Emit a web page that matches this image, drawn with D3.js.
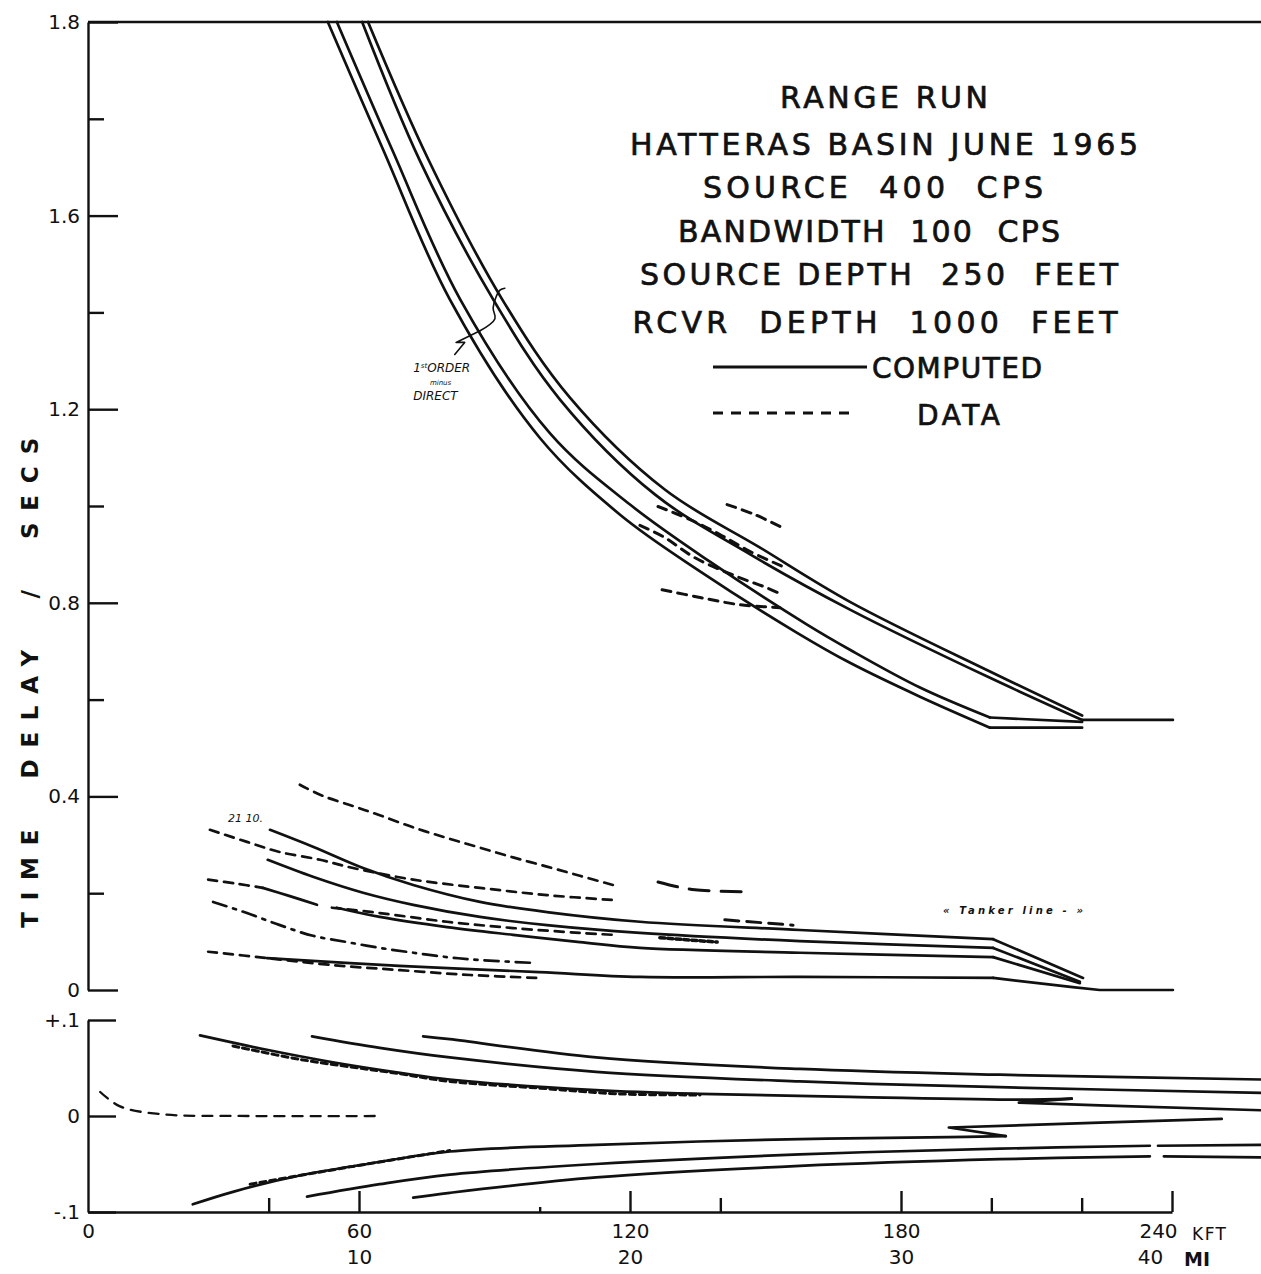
<!DOCTYPE html>
<html>
<head>
<meta charset="utf-8">
<script src="https://cdn.jsdelivr.net/npm/d3@7"></script>
<style>
  html, body { margin: 0; padding: 0; background: #fff; }
  svg { display: block; }
  text { font-family: 'DejaVu Sans', 'Liberation Sans', sans-serif; fill: #111; }
</style>
</head>
<body>
<div id="chart"></div>
<script>
// ---- tick values / labels ----
const yTickValues = [0, 0.4, 0.8, 1.2, 1.6, 2.0];
const yTickLabels = ['0', '0.4', '0.8', '1.2', '1.6', '1.8']; // top label reads 1.8 on the sheet
const yMinorTicks = [0.2, 0.6, 1.0, 1.4, 1.8];
const diffTickValues = [-0.1, 0, 0.1];
const diffTickLabels = ['-.1', '0', '+.1'];
const xTickValues = [0, 60, 120, 180, 240];
const xTickLabelsKft = ['0', '60', '120', '180', '240'];
const xTickLabelsMi = ['', '10', '20', '30', '40'];
const xMinorTicks = [40, 140, 200, 220];
const xTinyTicks = [100];

const titleLines = ['RANGE RUN', 'HATTERAS BASIN JUNE 1965', 'SOURCE  400  CPS', 'BANDWIDTH  100  CPS',
  'SOURCE DEPTH  250  FEET', 'RCVR  DEPTH  1000  FEET'];

// ---- upper group: 1st order minus direct (kft, secs) ----
const computedA1 = [[53.1, 2.0], [65.3, 1.737], [80.1, 1.427], [100.1, 1.140], [117.8, 0.982], [135.5, 0.865],
  [157.0, 0.738], [168.7, 0.676], [184.2, 0.606], [199.7, 0.542], [220.1, 0.542]];
const computedA2 = [[55.1, 2.0], [67.3, 1.737], [82.4, 1.427], [102.3, 1.150], [120.0, 1.003], [137.7, 0.885],
  [159.2, 0.755], [168.7, 0.703], [184.2, 0.625], [199.7, 0.563], [220.1, 0.554]];
const computedB1 = [[60.7, 2.0], [73.5, 1.713], [89.7, 1.427], [104.5, 1.220], [125.5, 1.024], [146.6, 0.900],
  [168.7, 0.786], [199.7, 0.645], [220.1, 0.558], [240.2, 0.558]];
const computedB2 = [[62.0, 2.0], [75.3, 1.717], [91.7, 1.427], [106.7, 1.224], [127.7, 1.034], [148.8, 0.914],
  [168.7, 0.802], [199.7, 0.658], [220.1, 0.567]];

const dataTop1 = [[126.2, 0.999], [133.3, 0.972], [139.9, 0.941], [146.6, 0.906], [154.3, 0.873]];
const dataTop2 = [[141.5, 1.003], [147.7, 0.982], [153.6, 0.956]];
const dataTop3 = [[122.2, 0.960], [127.3, 0.937], [134.4, 0.893], [143.7, 0.854], [150.3, 0.831], [153.2, 0.819]];
const dataTop4 = [[127.1, 0.827], [135.5, 0.811], [144.3, 0.796], [153.2, 0.790]];

// ---- lower group (kft, secs) ----
const computedS1 = [[40.3, 0.331], [49.8, 0.296], [60.9, 0.252], [72.0, 0.217], [86.8, 0.182], [101.6, 0.161],
  [122.2, 0.141], [157.6, 0.124], [200.4, 0.105], [220.3, 0.025]];
const computedS2 = [[39.8, 0.269], [49.8, 0.234], [60.9, 0.201], [72.0, 0.176], [86.8, 0.151], [101.6, 0.134],
  [122.2, 0.118], [157.6, 0.101], [200.4, 0.087], [219.6, 0.017]];
const computedS3 = [[55.1, 0.170], [64.6, 0.151], [79.5, 0.130], [94.1, 0.114], [108.9, 0.099], [122.2, 0.087],
  [157.6, 0.077], [200.4, 0.068], [219.6, 0.014]];
const computedS4 = [[39.6, 0.066], [68.9, 0.050], [99.9, 0.037], [122.2, 0.027], [157.6, 0.027], [200.4, 0.025],
  [218.0, 0.006], [224.0, 0], [240.2, 0]];
const computedS5 = [[38.7, 0.211], [44.7, 0.194], [50.7, 0.176]];

const dataLow1 = [[46.9, 0.424], [52.0, 0.401], [58.7, 0.380], [64.6, 0.361], [72.0, 0.336], [79.5, 0.314],
  [86.8, 0.294], [94.1, 0.274], [101.6, 0.255], [108.9, 0.236], [116.2, 0.217]];
const dataLow2 = [[27.0, 0.331], [35.2, 0.306], [42.5, 0.285], [51.4, 0.269], [58.7, 0.252], [72.0, 0.228],
  [86.8, 0.211], [101.6, 0.196], [116.2, 0.186]];
const dataLow3 = [[26.6, 0.228], [32.7, 0.220], [38.7, 0.211]];
const dataLow4 = [[54.0, 0.170], [64.6, 0.159], [79.5, 0.141], [94.1, 0.128], [108.9, 0.118], [116.2, 0.114]];
const dataLow5 = [[27.7, 0.182], [35.2, 0.159], [42.5, 0.134], [49.8, 0.112], [57.3, 0.099], [64.6, 0.087],
  [72.0, 0.077], [79.5, 0.068], [86.8, 0.062], [98.5, 0.056]];
const dataLow6 = [[26.6, 0.079], [39.6, 0.066], [53.6, 0.052], [69.1, 0.041], [84.6, 0.031], [99.4, 0.025]];
const dataLow7 = [[126.2, 0.223], [130.6, 0.213], [134.4, 0.207], [145.0, 0.203]];
const dataLow8 = [[141.0, 0.145], [156.1, 0.134]];
const dataLow9 = [[126.6, 0.108], [139.3, 0.099]];

// ---- bottom panel: difference (kft, secs) ----
const diffZero = [[2.7, 0.025], [7.1, 0.010], [15.9, 0.002], [35.9, 0], [63.5, 0]];
const diffUp1 = [[24.8, 0.084], [39.6, 0.069], [54.2, 0.056], [69.1, 0.045], [80.1, 0.038], [112.5, 0.027],
  [135.5, 0.023], [168.7, 0.020], [206.1, 0.017], [217.8, 0.018]];
const diffUp1b = [[217.8, 0.018], [206.1, 0.014], [224.0, 0.011], [259.7, 0.006]];
const diffUp2 = [[49.6, 0.083], [64.6, 0.071], [80.1, 0.061], [112.5, 0.046], [157.6, 0.036], [201.9, 0.030], [259.7, 0.024]];
const diffUp3 = [[74.2, 0.083], [80.1, 0.080], [112.5, 0.061], [157.6, 0.049], [201.9, 0.043], [259.7, 0.038]];
const diffUpData = [[32.1, 0.073], [46.9, 0.059], [69.1, 0.044], [80.1, 0.036], [100.1, 0.029], [117.8, 0.023], [135.5, 0.022]];
const diffDown1 = [[23.2, -0.092], [32.1, -0.079], [46.9, -0.062], [61.8, -0.050], [80.1, -0.037], [112.5, -0.030],
  [157.6, -0.024], [190.6, -0.022], [203.2, -0.021]];
const diffDown1b = [[203.2, -0.021], [190.6, -0.012], [224.0, -0.007], [251.0, -0.003]];
const diffDownData = [[35.9, -0.071], [58.0, -0.053], [80.1, -0.036]];
const diffDown2 = [[48.5, -0.084], [64.6, -0.071], [80.1, -0.061], [112.5, -0.050], [157.6, -0.040], [201.9, -0.034], [235.1, -0.031]];
const diffDown2b = [[236.9, -0.031], [259.7, -0.030]];
const diffDown3 = [[72.0, -0.085], [80.1, -0.080], [112.5, -0.064], [157.6, -0.052], [201.9, -0.045], [235.1, -0.042]];
const diffDown3b = [[238.2, -0.042], [259.7, -0.043]];

// hand annotation pointer (kft, secs)
const pointerPath = [[81.2, 1.313], [83.4, 1.338], [81.5, 1.338], [86.8, 1.362]];
const bracketPath = [[86.8, 1.362], [90.1, 1.387], [89.7, 1.410], [91.2, 1.446], [92.3, 1.450]];

function drawRangeRun(containerSelector) {
  const W = 1261, H = 1274;
  const ink = '#111';
  const lw = 2.7;

  const svg = d3.select(containerSelector)
    .append('svg')
    .attr('width', W)
    .attr('height', H)
    .style('background', '#fff');

  // Scales
  const x = d3.scaleLinear().domain([0, 240]).range([88, 1172]);
  const yTop = d3.scaleLinear().domain([0, 2.0]).range([990, 22]);
  const yBot = d3.scaleLinear().domain([-0.1, 0.1]).range([1212, 1020]);

  const styleAxis = g => {
    g.selectAll('path.domain').attr('stroke', ink).attr('stroke-width', 2.4);
    g.selectAll('.tick line').attr('stroke', ink).attr('stroke-width', 2.4);
    g.selectAll('.tick text').attr('font-size', 20).attr('fill', ink)
      .attr('font-family', "'DejaVu Sans', sans-serif");
  };

  // top border
  svg.append('line')
    .attr('x1', x(0)).attr('x2', x(260))
    .attr('y1', yTop(2.0)).attr('y2', yTop(2.0))
    .attr('stroke', ink).attr('stroke-width', 2.4);

  // main y axis
  svg.append('g')
    .attr('transform', `translate(${x(0)},0)`)
    .call(d3.axisLeft(yTop).tickValues(yTickValues)
      .tickFormat((d, i) => yTickLabels[i]).tickSizeInner(-30).tickSizeOuter(0).tickPadding(8))
    .call(styleAxis);

  svg.append('g')
    .attr('transform', `translate(${x(0)},0)`)
    .call(d3.axisLeft(yTop).tickValues(yMinorTicks).tickFormat('').tickSizeInner(-16).tickSizeOuter(0))
    .call(styleAxis)
    .select('.domain').remove();

  // difference panel y axis
  svg.append('g')
    .attr('transform', `translate(${x(0)},0)`)
    .call(d3.axisLeft(yBot).tickValues(diffTickValues)
      .tickFormat((d, i) => diffTickLabels[i]).tickSizeInner(-28).tickSizeOuter(0).tickPadding(8))
    .call(styleAxis);

  // x axis
  const xAxisG = svg.append('g')
    .attr('transform', `translate(0,${yBot(-0.1)})`)
    .call(d3.axisBottom(x).tickValues(xTickValues)
      .tickFormat((d, i) => xTickLabelsKft[i]).tickSizeInner(-21).tickSizeOuter(0).tickPadding(12))
    .call(styleAxis);
  xAxisG.selectAll('.tick text').filter(d => d === 240).attr('dx', -14);
  xAxisG.selectAll('.tick').filter(d => d === 0).select('line').remove();

  svg.append('g')
    .attr('transform', `translate(0,${yBot(-0.1)})`)
    .call(d3.axisBottom(x).tickValues(xMinorTicks).tickFormat('').tickSizeInner(-14).tickSizeOuter(0))
    .call(styleAxis)
    .select('.domain').remove();

  svg.append('g')
    .attr('transform', `translate(0,${yBot(-0.1)})`)
    .call(d3.axisBottom(x).tickValues(xTinyTicks).tickFormat('').tickSizeInner(-5).tickSizeOuter(0))
    .call(styleAxis)
    .select('.domain').remove();

  // miles row
  const miG = svg.append('g')
    .attr('transform', `translate(0,${yBot(-0.1) + 26})`)
    .call(d3.axisBottom(x).tickValues(xTickValues)
      .tickFormat((d, i) => xTickLabelsMi[i]).tickSize(0).tickPadding(12))
    .call(styleAxis);
  miG.select('.domain').remove();
  miG.selectAll('.tick text').filter(d => d === 240).attr('dx', -22);

  svg.append('text')
    .attr('x', x(240) + 20).attr('y', yBot(-0.1) + 28)
    .attr('font-size', 17).attr('textLength', 34).attr('lengthAdjust', 'spacing')
    .text('KFT');
  svg.append('text')
    .attr('x', x(240) + 12).attr('y', yBot(-0.1) + 54)
    .attr('font-size', 19).attr('font-weight', 'bold')
    .text('MI');

  // y title
  svg.append('text')
    .attr('transform', `translate(38,${(yTop(0.14) + yTop(1.13)) / 2}) rotate(-90)`)
    .attr('text-anchor', 'middle')
    .attr('font-size', 23)
    .attr('font-weight', 'bold')
    .attr('textLength', 490)
    .attr('lengthAdjust', 'spacing')
    .style('white-space', 'pre')
    .text('TIME  DELAY  /  SECS');

  // Line generators
  const smooth = d3.curveCatmullRom.alpha(0.5);
  const lineTop = d3.line().x(d => x(d[0])).y(d => yTop(d[1])).curve(smooth);
  const lineTopLin = d3.line().x(d => x(d[0])).y(d => yTop(d[1]));
  const lineBot = d3.line().x(d => x(d[0])).y(d => yBot(d[1])).curve(smooth);
  const lineBotLin = d3.line().x(d => x(d[0])).y(d => yBot(d[1]));

  const plot = svg.append('g').attr('fill', 'none').attr('stroke', ink)
    .attr('stroke-linecap', 'round').attr('stroke-linejoin', 'round');

  const draw = (points, gen, dash, width) => {
    plot.append('path')
      .datum(points)
      .attr('stroke-width', width || lw)
      .attr('stroke-dasharray', dash || null)
      .attr('d', gen);
  };

  // smooth up to the kink point, straight after it
  const drawKinked = (points, k) => {
    draw(points.slice(0, k + 1), lineTop);
    draw(points.slice(k), lineTopLin);
  };

  // computed (solid)
  drawKinked(computedA1, 9);
  drawKinked(computedA2, 9);
  drawKinked(computedB1, 8);
  draw(computedB2, lineTop);
  drawKinked(computedS1, 8);
  drawKinked(computedS2, 8);
  drawKinked(computedS3, 7);
  drawKinked(computedS4, 5);
  draw(computedS5, lineTop);
  [diffUp1, diffUp2, diffUp3, diffDown1, diffDown2, diffDown2b, diffDown3, diffDown3b]
    .forEach(s => draw(s, lineBot));
  [diffUp1b, diffDown1b].forEach(s => draw(s, lineBotLin));

  // data (dashed)
  [dataTop1, dataTop2, dataTop3, dataTop4].forEach(s => draw(s, lineTop, '9,7', 3));
  [dataLow1, dataLow2, dataLow3, dataLow4, dataLow6].forEach(s => draw(s, lineTop, '9,7'));
  draw(dataLow5, lineTop, '14,7,3,7');
  draw(dataLow7, lineTop, '20,12', 3);
  draw(dataLow8, lineTop, '14,8', 3);
  draw(dataLow9, lineTop, '5,3', 3.5);
  draw(diffZero, lineBot, '10,8', 2.3);
  draw(diffUpData, lineBot, '6,4', 3);
  draw(diffDownData, lineBot, '6,4', 3);

  // pointer for the annotation
  draw(pointerPath, lineTopLin, null, 1.6);
  draw(bracketPath, lineTop, null, 1.6);

  // annotations
  const ann = svg.append('g').attr('font-style', 'italic');
  const t1 = ann.append('text').attr('x', x(72.0)).attr('y', yTop(1.276)).attr('font-size', 12);
  t1.append('tspan').text('1');
  t1.append('tspan').attr('font-size', 7).attr('dy', -4).text('st');
  t1.append('tspan').attr('dy', 4).text('ORDER');
  ann.append('text').attr('x', x(75.7)).attr('y', yTop(1.250)).attr('font-size', 7).text('minus');
  ann.append('text').attr('x', x(72.0)).attr('y', yTop(1.218)).attr('font-size', 12).text('DIRECT');
  ann.append('text').attr('x', x(31.0)).attr('y', yTop(0.347)).attr('font-size', 11).text('21 10.');
  ann.append('text').attr('x', x(204.8)).attr('y', yTop(0.158)).attr('font-size', 10)
    .attr('font-weight', 'bold')
    .attr('text-anchor', 'middle').attr('textLength', 140).attr('lengthAdjust', 'spacing')
    .text('« Tanker  line  - »');

  // title block
  const titleX = [884, 884, 873, 869, 879, 875];
  const titleY = [108, 155, 198, 242, 285, 333];
  const titleW = [208, 508, 340, 382, 478, 485];
  svg.append('g')
    .selectAll('text')
    .data(titleLines)
    .join('text')
    .attr('x', (d, i) => titleX[i])
    .attr('y', (d, i) => titleY[i])
    .attr('text-anchor', 'middle')
    .attr('font-size', 30)
    .attr('stroke', ink).attr('stroke-width', 0.7)
    .attr('textLength', (d, i) => titleW[i])
    .attr('lengthAdjust', 'spacing')
    .style('white-space', 'pre')
    .text(d => d);

  // legend
  const legend = svg.append('g');
  legend.append('line')
    .attr('x1', 713).attr('x2', 867).attr('y1', 367).attr('y2', 367)
    .attr('stroke', ink).attr('stroke-width', 2.8);
  legend.append('text')
    .attr('x', 872).attr('y', 378).attr('font-size', 28)
    .attr('stroke', ink).attr('stroke-width', 0.7)
    .attr('textLength', 170).attr('lengthAdjust', 'spacing')
    .text('COMPUTED');
  legend.append('line')
    .attr('x1', 713).attr('x2', 855).attr('y1', 413).attr('y2', 413)
    .attr('stroke', ink).attr('stroke-width', 2.8).attr('stroke-dasharray', '10,8');
  legend.append('text')
    .attr('x', 917).attr('y', 425).attr('font-size', 28)
    .attr('stroke', ink).attr('stroke-width', 0.7)
    .attr('textLength', 83).attr('lengthAdjust', 'spacing')
    .text('DATA');
}

drawRangeRun('#chart');
</script>
</body>
</html>
